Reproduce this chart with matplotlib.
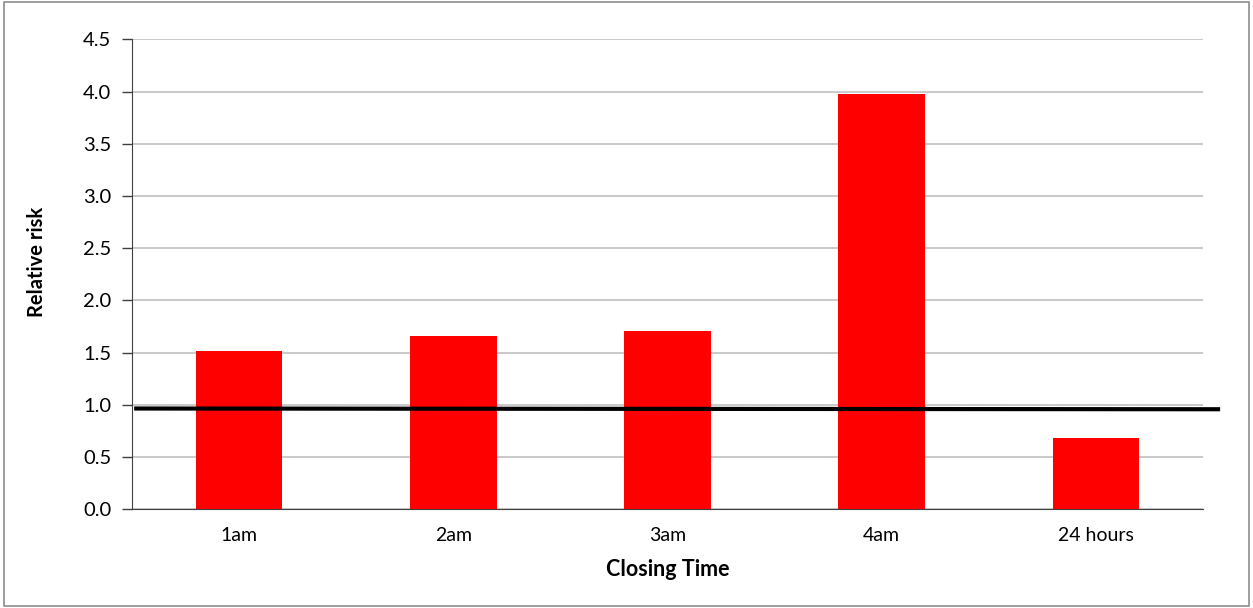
import matplotlib as mpl
mpl.use('Agg')
import matplotlib.pyplot as plt
from matplotlib.patches import Rectangle

categories = ['1am', '2am', '3am', '4am', '24 hours']
relative_risk = [1.52, 1.66, 1.71, 3.98, 0.68]
reference_line = [0.965, 0.958]
y_ticks = [0.0, 0.5, 1.0, 1.5, 2.0, 2.5, 3.0, 3.5, 4.0, 4.5]

plt.rcParams['font.family'] = ['Lato', 'DejaVu Sans']

fig = plt.figure(figsize=(12.53, 6.08), dpi=100)
ax = fig.add_axes([132 / 1253, 1 - 509.3 / 608, (1203 - 132) / 1253, (509.3 - 39.3) / 608])

# outer chart border
fig.patches.append(Rectangle((4 / 1253, 2 / 608), 1245 / 1253, 604 / 608,
                             transform=fig.transFigure, fill=False,
                             edgecolor='#8c8c8c', linewidth=1.2))

x = list(range(len(categories)))
ax.bar(x, relative_risk, width=0.405, color='#ff0000', zorder=2)

# reference line at RR = 1, running a little past the plot area
ax.plot([-0.49, 4.58], reference_line, color='black', linewidth=3,
        solid_capstyle='butt', clip_on=False, zorder=3)

ax.set_xlim(-0.5, 4.5)
ax.set_ylim(0, 4.5)
ax.set_xticks(x)
ax.set_xticklabels(categories, fontsize=14)
ax.set_yticks(y_ticks)
ax.set_yticklabels([f'{v:.1f}' for v in y_ticks], fontsize=14.5)
ax.tick_params(axis='x', length=0, pad=13)
ax.tick_params(axis='y', length=7, width=1, color='#404040', pad=8)

ax.grid(axis='y', color='#c0c0c0', linewidth=1.2, zorder=0)
ax.set_axisbelow(True)
for side in ['top', 'right']:
    ax.spines[side].set_visible(False)
ax.spines['left'].set_color('#404040')
ax.spines['bottom'].set_color('#404040')

ax.set_xlabel('Closing Time', fontsize=15.5, fontweight='bold')
ax.set_ylabel('Relative risk', fontsize=14.5, fontweight='bold')
ax.xaxis.set_label_coords(0.5, -0.129)
ax.yaxis.set_label_coords(-0.0887, 0.526)
ax.xaxis.label.set_va('center')
ax.yaxis.label.set_va('center')

fig.savefig('out.png', dpi=100)
plt.close()
